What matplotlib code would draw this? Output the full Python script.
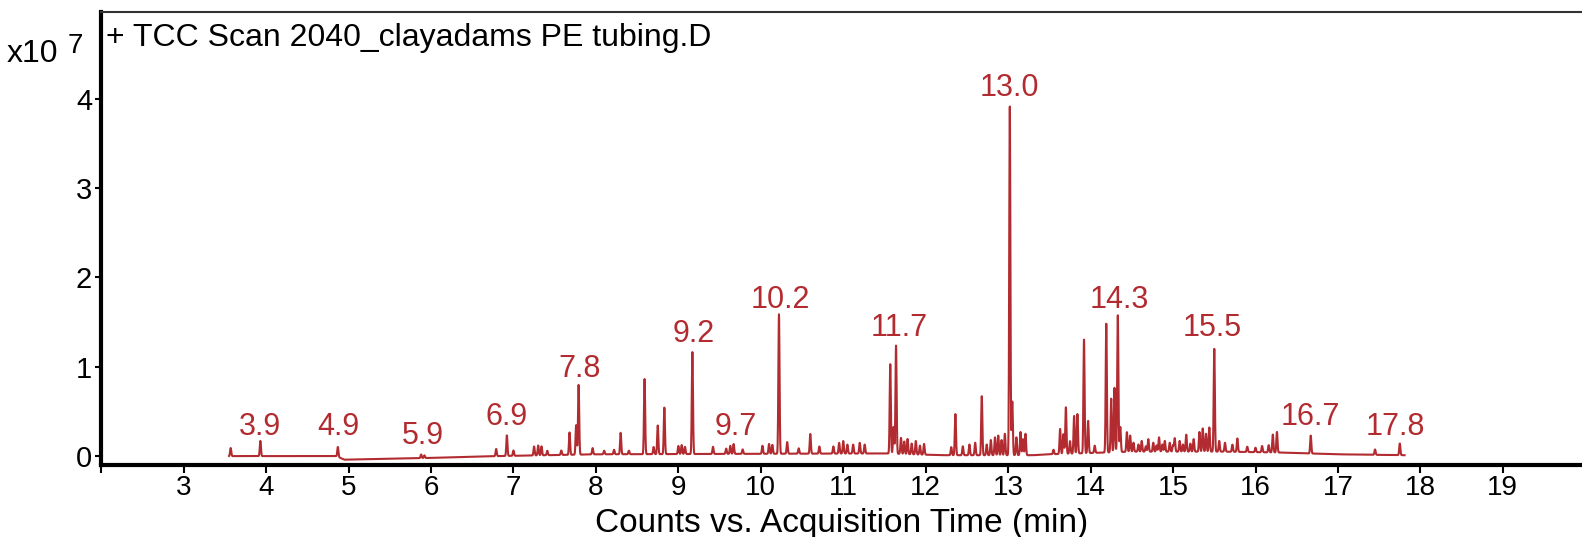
import matplotlib

matplotlib.use("Agg")
import matplotlib.pyplot as plt
import numpy as np

plt.rcParams["font.family"] = ["Liberation Sans", "DejaVu Sans"]

red = "#B22B30"

# peak retention times (min) and heights (x10^7 counts)
peak_t = [
    3.57, 3.93, 4.87, 5.88, 5.92, 6.79, 6.92, 7.0, 7.25, 7.3, 7.34, 7.41,
    7.58, 7.68, 7.76, 7.79, 7.96, 8.1, 8.22, 8.3, 8.4, 8.59, 8.7, 8.75,
    8.83, 9.0, 9.04, 9.08, 9.17, 9.42, 9.58, 9.63, 9.67, 9.78, 10.02, 10.1,
    10.14, 10.22, 10.32, 10.46, 10.6, 10.71, 10.88, 10.95, 11.0, 11.05,
    11.12, 11.2, 11.26, 11.57, 11.61, 11.64, 11.7, 11.74, 11.78, 11.83,
    11.88, 11.93, 11.98, 12.31, 12.36, 12.45, 12.53, 12.6, 12.68, 12.74,
    12.79, 12.84, 12.88, 12.92, 12.96, 13.02, 13.05, 13.1, 13.15, 13.18,
    13.21, 13.55, 13.63, 13.67, 13.7, 13.75, 13.8, 13.84, 13.92, 13.97,
    14.05, 14.19, 14.25, 14.29, 14.33, 14.36, 14.44, 14.48, 14.52, 14.58,
    14.62, 14.67, 14.7, 14.76, 14.8, 14.83, 14.87, 14.9, 14.96, 15.0,
    15.02, 15.08, 15.12, 15.16, 15.21, 15.25, 15.32, 15.36, 15.4, 15.44,
    15.5, 15.56, 15.63, 15.72, 15.78, 15.9, 16.0, 16.08, 16.16, 16.21,
    16.26, 16.67, 17.45, 17.75,
]
peak_h = [
    0.09, 0.17, 0.11, 0.04, 0.03, 0.08, 0.23, 0.06, 0.1, 0.11, 0.1, 0.05,
    0.05, 0.25, 0.33, 0.78, 0.07, 0.04, 0.05, 0.24, 0.04, 0.84, 0.08, 0.32,
    0.52, 0.09, 0.1, 0.08, 1.14, 0.08, 0.06, 0.09, 0.11, 0.05, 0.09, 0.11,
    0.1, 1.56, 0.13, 0.06, 0.22, 0.08, 0.08, 0.12, 0.14, 0.1, 0.1, 0.12,
    0.1, 1.0, 0.3, 1.21, 0.18, 0.14, 0.17, 0.12, 0.15, 0.1, 0.12, 0.09,
    0.46, 0.1, 0.12, 0.14, 0.66, 0.12, 0.17, 0.2, 0.22, 0.17, 0.24, 3.9,
    0.6, 0.2, 0.26, 0.18, 0.24, 0.05, 0.28, 0.22, 0.52, 0.14, 0.42, 0.44,
    1.27, 0.36, 0.08, 1.44, 0.6, 0.72, 1.53, 0.28, 0.22, 0.18, 0.1, 0.08,
    0.12, 0.06, 0.14, 0.1, 0.07, 0.16, 0.08, 0.12, 0.1, 0.07, 0.15, 0.12,
    0.08, 0.19, 0.09, 0.14, 0.22, 0.26, 0.2, 0.27, 1.15, 0.12, 0.1, 0.08,
    0.15, 0.06, 0.05, 0.07, 0.08, 0.2, 0.23, 0.2, 0.06, 0.13,
]

# baseline (x10^7 counts) at a few retention times
base_t = [3.55, 4.85, 4.95, 6.0, 6.8, 8.0, 11.5, 12.2, 13.3, 13.5, 14.5, 15.6, 16.3, 17.0, 17.81]
base_v = [0.0, 0.0, -0.04, -0.02, 0.0, 0.02, 0.03, 0.01, 0.01, 0.02, 0.05, 0.05, 0.04, 0.02, 0.01]

labels = ["3.9", "4.9", "5.9", "6.9", "7.8", "9.2", "9.7", "10.2", "11.7",
          "13.0", "14.3", "15.5", "16.7", "17.8"]
label_t = [3.93, 4.88, 5.9, 6.92, 7.8, 9.19, 9.69, 10.24, 11.68,
           13.01, 14.35, 15.48, 16.66, 17.7]
label_y = [0.33, 0.33, 0.23, 0.44, 0.97, 1.37, 0.32, 1.75, 1.43,
           4.12, 1.75, 1.43, 0.44, 0.32]

t = np.arange(base_t[0], base_t[-1], 0.002)
trace = np.interp(t, base_t, base_v)
for pt, ph in zip(peak_t, peak_h):
    trace = trace + ph * np.exp(-0.5 * ((t - pt) / 0.007) ** 2)

fig = plt.figure(figsize=(15.82, 5.37), dpi=100)
ax = fig.add_axes([0.064, 0.134, 0.936, 0.844])

ax.plot(t, trace, color=red, lw=1.5)

for lab, lx, ly in zip(labels, label_t, label_y):
    ax.text(lx, ly, lab, color=red, fontsize=22, ha="center", va="center")

ax.set_xlim(2, 19.96)
ax.set_ylim(-0.1, 4.97)
ax.set_xticks(range(2, 20))
ax.set_xticklabels([""] + [str(i) for i in range(3, 20)])
ax.set_yticks([0, 1, 2, 3, 4])

ax.spines["right"].set_visible(False)
ax.spines["left"].set_linewidth(3)
ax.spines["bottom"].set_linewidth(3)
ax.spines["top"].set_linewidth(1.5)
ax.spines["top"].set_color("#333333")
ax.tick_params(axis="x", direction="out", length=5.5, width=1.5, labelsize=20, pad=2)
ax.tick_params(axis="y", direction="out", length=4.5, width=1.5, labelsize=21, pad=2)

ax.set_xlabel("Counts vs. Acquisition Time (min)", fontsize=24)
ax.xaxis.set_label_coords(0.5, -0.095)

ax.text(0.003, 0.975, "+ TCC Scan 2040_clayadams PE tubing.D", transform=ax.transAxes,
        fontsize=23, ha="left", va="top")

fig.text(0.004, 0.9, "x10", fontsize=23, ha="left", va="center")
fig.text(0.043, 0.915, "7", fontsize=20, ha="left", va="center")

plt.savefig("out.png", dpi=100)
